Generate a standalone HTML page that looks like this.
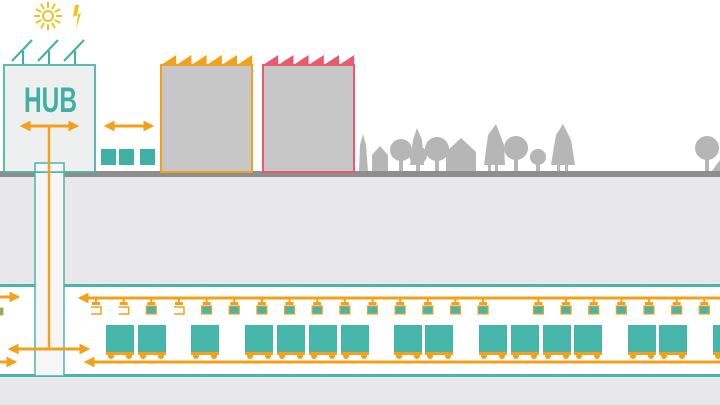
<!DOCTYPE html>
<html><head><meta charset="utf-8"><style>html,body{margin:0;padding:0;background:#fff}svg{display:block}</style></head><body>
<svg id="s" width="720" height="405" viewBox="0 0 720 405" xmlns="http://www.w3.org/2000/svg">
<defs>
<marker id="ah" viewBox="0 0 10 10" refX="8" refY="5" markerWidth="3.6" markerHeight="3.6" orient="auto-start-reverse"><path d="M0,0L10,5L0,10z" fill="#f2a11c"/></marker>
</defs>
<rect x="0" y="0" width="720" height="405" fill="#fff"/>
<rect x="0" y="174" width="720" height="231" fill="#e8e8ea"/>
<rect x="0" y="171" width="720" height="6" fill="#8e8e8e"/>
<rect x="0" y="286" width="720" height="89" fill="#fff"/>
<rect x="0" y="284" width="720" height="3" fill="#4ab5a8"/>
<rect x="0" y="374" width="720" height="3" fill="#4ab5a8"/>
<rect x="35" y="163" width="29" height="213" fill="#f6f6f7" stroke="#4ab5a8" stroke-width="1.5"/>
<rect x="4" y="65" width="91" height="107" fill="#eef0f0" stroke="#4ab5a8" stroke-width="1.8"/>
<rect x="35" y="163" width="29" height="9" fill="#f6f6f7" stroke="#4ab5a8" stroke-width="1.5"/>
<text x="24" y="112" textLength="53" lengthAdjust="spacingAndGlyphs" font-family="Liberation Sans, sans-serif" font-weight="bold" font-size="35" fill="#3fb1a4">HUB</text>
<line x1="22" y1="126" x2="77" y2="126" stroke="#f2a11c" stroke-width="3" marker-start="url(#ah)" marker-end="url(#ah)"/>
<line x1="49" y1="126" x2="49" y2="349" stroke="#f2a11c" stroke-width="2.5"/>
<line x1="10" y1="349" x2="88" y2="349" stroke="#f2a11c" stroke-width="3" marker-start="url(#ah)" marker-end="url(#ah)"/>
<line x1="0" y1="297" x2="18" y2="297" stroke="#f2a11c" stroke-width="3" marker-end="url(#ah)"/>
<line x1="0" y1="362" x2="15" y2="362" stroke="#f2a11c" stroke-width="3" marker-end="url(#ah)"/>
<rect x="0" y="308" width="3" height="7" fill="#4ab5a8" stroke="#f2a11c" stroke-width="1"/>
<g stroke="#3fb1a4" stroke-width="2" fill="none">
<line x1="12" y1="61" x2="32" y2="40"/><line x1="23" y1="51" x2="23" y2="64"/>
<line x1="38" y1="61" x2="58" y2="40"/><line x1="49" y1="51" x2="49" y2="64"/>
<line x1="64" y1="61" x2="84" y2="40"/><line x1="75" y1="51" x2="75" y2="64"/>
</g>
<g stroke="#f5c21b" stroke-width="2">
<circle cx="48" cy="16" r="5" fill="none"/>
<g id="rays"></g>
</g>
<path d="M75,5 L73,17 L78,15 L76,30 L81,13 L77,15 L79,5z" fill="#f5c21b"/>
<line x1="106" y1="126" x2="152" y2="126" stroke="#f2a11c" stroke-width="3" marker-start="url(#ah)" marker-end="url(#ah)"/>
<g fill="#3fb1a4">
<rect x="101" y="149" width="15" height="16"/><rect x="119" y="149" width="15" height="16"/><rect x="140" y="149" width="15" height="16"/>
</g>
<rect x="161" y="65" width="91" height="107" fill="#c8c7c8" stroke="#f2a11c" stroke-width="2"/>
<rect x="263" y="65" width="91" height="107" fill="#c8c7c8" stroke="#ea5a6c" stroke-width="2"/>
<g id="teeth"></g>
<g fill="#b6b6b6">
<path d="M359,171 L360,145 L363,134 L366,145 L368,171z"/>
<path d="M372,171 L372,155 L380,146 L388,155 L388,171z"/>
<circle cx="401" cy="150" r="11"/><rect x="399" y="155" width="4" height="16"/>
<path d="M410,165 L413,140 L417,128 L422,140 L424,165z"/>
<circle cx="418" cy="155" r="9"/><rect x="416" y="158" width="4" height="13"/>
<circle cx="437" cy="149" r="12"/><rect x="435" y="155" width="4" height="16"/>
<path d="M446,171 L446,152 L461,138 L476,152 L476,171z"/>
<path d="M484,165 L488,135 L496,124 L504,145 L505,165z"/><rect x="488" y="160" width="3" height="11"/><rect x="495" y="160" width="3" height="11"/>
<circle cx="516" cy="148" r="12"/><rect x="514" y="155" width="4" height="16"/>
<circle cx="538" cy="157" r="8"/><rect x="536" y="160" width="4" height="11"/>
<path d="M551,165 L556,135 L563,124 L571,140 L575,165z"/><rect x="557" y="160" width="3" height="11"/><rect x="565" y="160" width="3" height="11"/>
<circle cx="707" cy="148" r="12"/><rect x="705" y="152" width="4" height="19"/>
<path d="M712,171 L720,160 L720,171z"/>
</g>
<g id="track"></g>
</svg>
<script>
var NS="http://www.w3.org/2000/svg";
function el(p,t,a){var e=document.createElementNS(NS,t);for(var k in a)e.setAttribute(k,a[k]);document.getElementById(p).appendChild(e);return e;}
for(var i=0;i<12;i++){var a=i*Math.PI/6;el("rays","line",{x1:48+Math.cos(a)*8,y1:16+Math.sin(a)*8,x2:48+Math.cos(a)*14,y2:16+Math.sin(a)*14});}
for(var i=0;i<6;i++){el("teeth","path",{d:"M"+(161+i*15.2)+",65 L"+(161+(i+1)*15.2)+",55 L"+(161+(i+1)*15.2)+",65z",fill:"#f2a11c"});
el("teeth","path",{d:"M"+(263+i*15.2)+",65 L"+(263+(i+1)*15.2)+",55 L"+(263+(i+1)*15.2)+",65z",fill:"#ea5a6c"});}
var O="#f2a11c",T="#45b6a9";
el("track","line",{x1:80,y1:298,x2:720,y2:298,stroke:O,"stroke-width":3,"marker-start":"url(#ah)"});
el("track","line",{x1:86,y1:362,x2:720,y2:362,stroke:O,"stroke-width":3,"marker-start":"url(#ah)"});
for(var i=0;i<24;i++){var x=96+27.65*i;if(i==15)continue;
el("track","rect",{x:x-1,y:298,width:2,height:7,fill:O});
el("track","rect",{x:x-4,y:302,width:8,height:3,fill:O});
if(i==0||i==1||i==3){el("track","path",{d:"M"+(x-5)+",307 L"+(x+5)+",307 L"+(x+5)+",314 L"+(x-5)+",314",fill:"none",stroke:O,"stroke-width":1.5});}
else{el("track","rect",{x:x-5,y:306,width:10,height:8,fill:T,stroke:O,"stroke-width":1.2});}}
var carts=[106,138,191,245,277,309,341,394,425,479,511,543,574,628,659,713];
carts.forEach(function(x){el("track","rect",{x:x,y:325,width:28,height:28,fill:T});
el("track","rect",{x:x,y:352,width:28,height:3,fill:O});
el("track","circle",{cx:x+5,cy:356,r:3,fill:O});el("track","circle",{cx:x+23,cy:356,r:3,fill:O});});
</script>
</body></html>
